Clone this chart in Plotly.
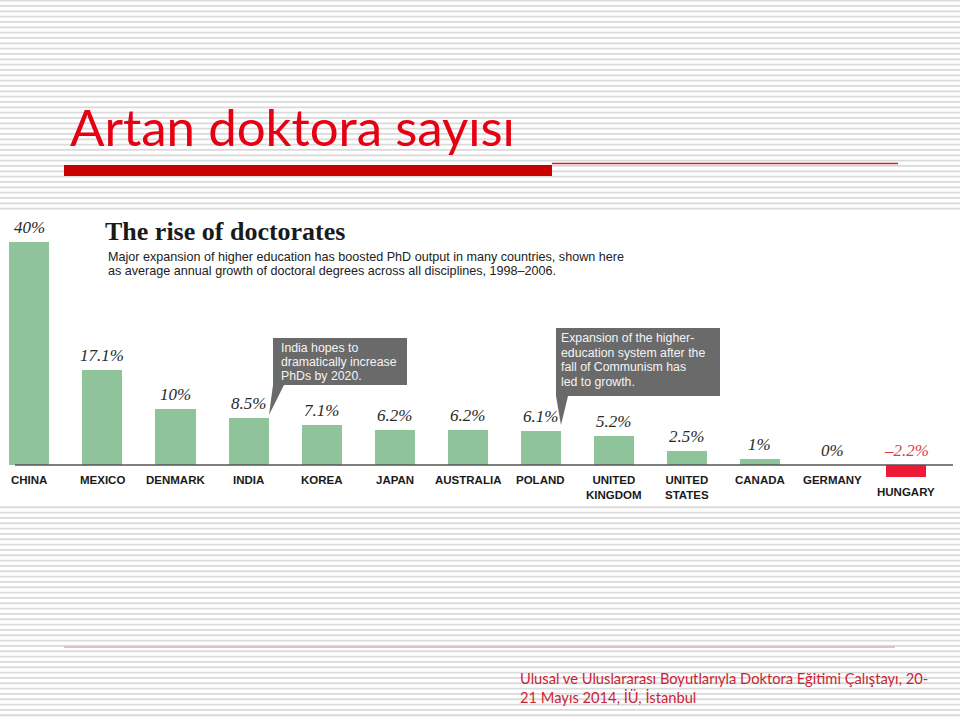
import plotly.graph_objects as go

# ---------------- data ----------------
countries = ["CHINA", "MEXICO", "DENMARK", "INDIA", "KOREA", "JAPAN", "AUSTRALIA",
             "POLAND", "UNITED KINGDOM", "UNITED STATES", "CANADA", "GERMANY", "HUNGARY"]
growth = [40, 17.1, 10, 8.5, 7.1, 6.2, 6.2, 6.1, 5.2, 2.5, 1, 0, -2.2]

slide_title = "Artan doktora sayısı"
chart_title = "The rise of doctorates"
chart_subtitle = ["Major expansion of higher education has boosted PhD output in many countries, shown here",
                  "as average annual growth of doctoral degrees across all disciplines, 1998–2006."]
note_india = ["India hopes to", "dramatically increase", "PhDs by 2020."]
note_poland = ["Expansion of the higher-", "education system after the", "fall of Communism has", "led to growth."]
footer = ["Ulusal ve Uluslararası Boyutlarıyla Doktora Eğitimi Çalıştayı, 20-",
          "21 Mayıs 2014, İÜ, İstanbul"]

# ---------------- helpers ----------------
W, H = 960, 717


def px(x):
    return x / W


def py(y):
    return 1 - y / H


GREEN = "#8fc49a"
RED_BAR = "#ec1a37"
RED_TXT = "#d6404c"

bar_colors = [GREEN if v >= 0 else RED_BAR for v in growth]

fig = go.Figure(go.Bar(
    x=countries, y=growth, width=0.548,
    marker=dict(color=bar_colors, line=dict(width=0)),
    hoverinfo="skip", showlegend=False,
))

shapes = []

# striped slide background
stripe_path = ""
y = 0.63
while y < H:
    stripe_path += f"M0,{py(y):.5f} L1,{py(y):.5f} "
    y += 5.333
shapes.append(dict(type="path", xref="paper", yref="paper", path=stripe_path,
                   line=dict(color="#dadada", width=1.8), layer="below"))

# white area of the embedded chart picture
shapes.append(dict(type="rect", xref="paper", yref="paper",
                   x0=0, x1=1, y0=py(506), y1=py(210),
                   fillcolor="white", line=dict(width=0), layer="below"))

# title decorations
shapes.append(dict(type="rect", xref="paper", yref="paper",
                   x0=px(64), x1=px(552), y0=py(176), y1=py(165),
                   fillcolor="#c90000", line=dict(width=0), layer="below"))
shapes.append(dict(type="line", xref="paper", yref="paper",
                   x0=px(552), x1=px(898), y0=py(163.5), y1=py(163.5),
                   line=dict(color="#c0272d", width=1.3), layer="below"))
# footer line
shapes.append(dict(type="line", xref="paper", yref="paper",
                   x0=px(64), x1=px(895), y0=py(647), y1=py(647),
                   line=dict(color="#d6c6c6", width=2), layer="below"))

# baseline of the bar chart
shapes.append(dict(type="line", xref="paper", yref="y",
                   x0=px(15), x1=px(953), y0=0, y1=0,
                   line=dict(color="#555555", width=1.5), layer="above"))


# callout boxes
def box_path(pts):
    return "M" + " L".join(f"{px(a):.5f},{py(b):.5f}" for a, b in pts) + " Z"


shapes.append(dict(type="path", xref="paper", yref="paper",
                   path=box_path([(273, 338), (407, 338), (407, 385), (284, 385),
                                  (269, 415), (273, 385)]),
                   fillcolor="#6a6a6a", line=dict(width=0), layer="above"))
shapes.append(dict(type="path", xref="paper", yref="paper",
                   path=box_path([(556, 328), (720, 328), (720, 396), (568, 396),
                                  (561, 425), (556, 396)]),
                   fillcolor="#6a6a6a", line=dict(width=0), layer="above"))

annotations = []


def text_lines(lines, x0, y_first, step, font):
    for i, line in enumerate(lines):
        annotations.append(dict(text=line, x=px(x0), y=py(y_first + i * step),
                                xref="paper", yref="paper", xanchor="left", yanchor="middle",
                                showarrow=False, font=font))


# slide title
annotations.append(dict(text=slide_title, x=px(68), y=py(127), xref="paper", yref="paper",
                        xanchor="left", yanchor="middle", showarrow=False,
                        font=dict(family="Lato", size=51, color="#e60012")))
# chart title and subtitle
annotations.append(dict(text=f"<b>{chart_title}</b>", x=px(103), y=py(231), xref="paper", yref="paper",
                        xanchor="left", yanchor="middle", showarrow=False,
                        font=dict(family="Liberation Serif", size=26, color="#1a1a1a")))
text_lines(chart_subtitle, 106, 256.5, 14.5,
           dict(family="Liberation Sans", size=12.6, color="#222222"))
# callout texts
text_lines(note_india, 279, 347.5, 14.5,
           dict(family="Liberation Sans", size=12.3, color="#f4f4f4"))
text_lines(note_poland, 559, 338, 14.7,
           dict(family="Liberation Sans", size=12.3, color="#f4f4f4"))

# value labels and country labels
for c, v in zip(countries, growth):
    label = f"{v:g}%".replace("-", "–")
    annotations.append(dict(text=f"<i>{label}</i>", x=c, y=max(v, 0), xref="x", yref="y",
                            xanchor="center", yanchor="bottom", yshift=3, showarrow=False,
                            font=dict(family="Liberation Serif", size=17,
                                      color=RED_TXT if v < 0 else "#2a2a2a")))
    annotations.append(dict(text="<b>" + c.replace("UNITED ", "UNITED<br>") + "</b>",
                            x=c, y=min(v, 0), xref="x", yref="y",
                            xanchor="center", yanchor="top", yshift=-7, showarrow=False,
                            font=dict(family="Liberation Sans", size=11.5, color="#1a1a1a")))

# footer
text_lines(footer, 518, 678, 19, dict(family="Lato", size=14.7, color="#cc1f36"))

fig.update_layout(
    width=W, height=H,
    margin=dict(l=0, r=0, t=0, b=0),
    paper_bgcolor="white",
    plot_bgcolor="rgba(0,0,0,0)",
    shapes=shapes,
    annotations=annotations,
    xaxis=dict(domain=[0, 1], range=[-0.4025, 12.739], type="category",
               visible=False, fixedrange=True),
    yaxis=dict(domain=[py(507), py(209)], range=[-7.53, 45.9],
               visible=False, fixedrange=True),
    bargap=0,
)

fig.write_html("out.html", config={"displayModeBar": False})
